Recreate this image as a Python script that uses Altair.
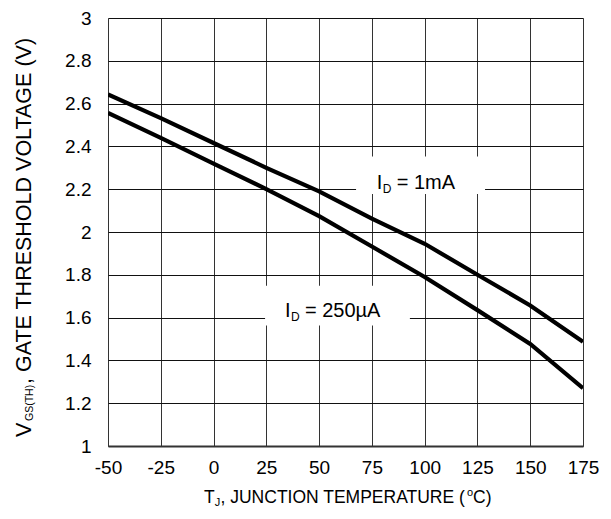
import altair as alt
import pandas as pd

# Data
temps = [-50, -25, 0, 25, 50, 75, 100, 125, 150, 175]
v_1ma = [2.643, 2.532, 2.416, 2.300, 2.190, 2.062, 1.945, 1.800, 1.657, 1.487]
v_250ua = [2.556, 2.440, 2.320, 2.200, 2.074, 1.932, 1.790, 1.635, 1.477, 1.270]
series_names = ["1mA", "250uA"]

x_ticks = [-50, -25, 0, 25, 50, 75, 100, 125, 150, 175]
y_ticks = [1, 1.2, 1.4, 1.6, 1.8, 2, 2.2, 2.4, 2.6, 2.8, 3]

# annotation boxes (data units): T1, T2, V1, V2
box_T1 = [67.5, 24.4]
box_T2 = [128.6, 93.0]
box_V1 = [2.177, 1.563]
box_V2 = [2.353, 1.749]
# annotation text anchors (data units, left edge of the "I") and texts
ann_T = [77.3, 33.8]
ann_V = [2.229, 1.633]
ann_main = ["= 1mA", "= 250\u00b5A"]

FONT = "Liberation Sans"
W, H = 475, 428

rows = []
for name, vals in zip(series_names, [v_1ma, v_250ua]):
    for t, v in zip(temps, vals):
        rows.append({"T": t, "V": v, "s": name})
df = pd.DataFrame(rows)

xs = alt.Scale(domain=[-50, 175], nice=False)
ys = alt.Scale(domain=[1, 3], nice=False)

base = alt.Chart(df)

lines = base.mark_line(color="black", strokeWidth=4.2, clip=True).encode(
    x=alt.X("T:Q", scale=xs, axis=alt.Axis(
        values=x_ticks, title=None, grid=True, gridColor="#333", gridWidth=1,
        ticks=False, labelFontSize=19, labelFont=FONT, labelColor="black",
        labelPadding=12, domainColor="#333", domainWidth=2, labelFlush=False,
        labelExpr="'' + datum.value")),
    y=alt.Y("V:Q", scale=ys, axis=alt.Axis(
        values=y_ticks, title=None, grid=True, gridColor="#111", gridWidth=1,
        ticks=False, labelFontSize=19, labelFont=FONT, labelColor="black",
        labelPadding=17, domain=False, labelFlush=False,
        labelExpr="'' + datum.value")),
    detail="s:N",
)

box_df = pd.DataFrame({"T1": box_T1, "T2": box_T2, "V1": box_V1, "V2": box_V2})
boxes = alt.Chart(box_df).mark_rect(fill="white").encode(
    x=alt.X("T1:Q", scale=xs), x2="T2:Q",
    y=alt.Y("V1:Q", scale=ys), y2="V2:Q",
)

ann_df = pd.DataFrame({"T": ann_T, "V": ann_V, "main": ann_main})
ann_base = alt.Chart(ann_df)
ann_I = ann_base.mark_text(font=FONT, fontSize=20, align="left", baseline="middle", color="black").encode(
    x=alt.X("T:Q", scale=xs), y=alt.Y("V:Q", scale=ys), text=alt.value("I"))
ann_D = ann_base.mark_text(font=FONT, fontSize=12, align="left", baseline="middle", color="black", dx=6, dy=6).encode(
    x=alt.X("T:Q", scale=xs), y=alt.Y("V:Q", scale=ys), text=alt.value("D"))
ann_M = ann_base.mark_text(font=FONT, fontSize=20, align="left", baseline="middle", color="black", dx=20).encode(
    x=alt.X("T:Q", scale=xs), y=alt.Y("V:Q", scale=ys), text="main:N")

# axis titles (with sub/superscripts) as text pieces
def tpiece(txt, x, y, size, angle=0):
    kw = dict(font=FONT, fontSize=size, align="left", baseline="middle", color="black")
    if angle:
        kw["angle"] = angle
    return alt.Chart(df).transform_filter("datum.T == -50 && datum.s == '1mA'").mark_text(**kw).encode(
        x=alt.value(x), y=alt.value(y), text=alt.value(txt))

xt_y = 480
xt0 = 96
x_title = [
    tpiece("T", xt0, xt_y, 17.5),
    tpiece("J", xt0 + 10.7, xt_y + 5, 11),
    tpiece(", JUNCTION TEMPERATURE (", xt0 + 16.5, xt_y, 17.5),
    tpiece("o", xt0 + 263, xt_y - 5, 11),
    tpiece("C)", xt0 + 269, xt_y, 17.5),
]

yt_x = -83
y_title = [
    tpiece("V", yt_x, 419, 21.5, 270),
    tpiece("GS(TH)", yt_x + 5, 403, 10.5, 270),
    tpiece(", GATE THRESHOLD VOLTAGE (V)", yt_x, 366, 21.5, 270),
]

chart = alt.layer(lines, boxes, ann_I, ann_D, ann_M, *x_title, *y_title).properties(
    width=W, height=H,
    autosize=alt.AutoSizeParams(type="none"),
    padding={"left": 100, "top": 10, "right": 20, "bottom": 70},
).configure_view(stroke="#888", strokeWidth=2.5).configure(background="white")

chart.save("out.html", embed_options={"renderer": "svg", "actions": False})
